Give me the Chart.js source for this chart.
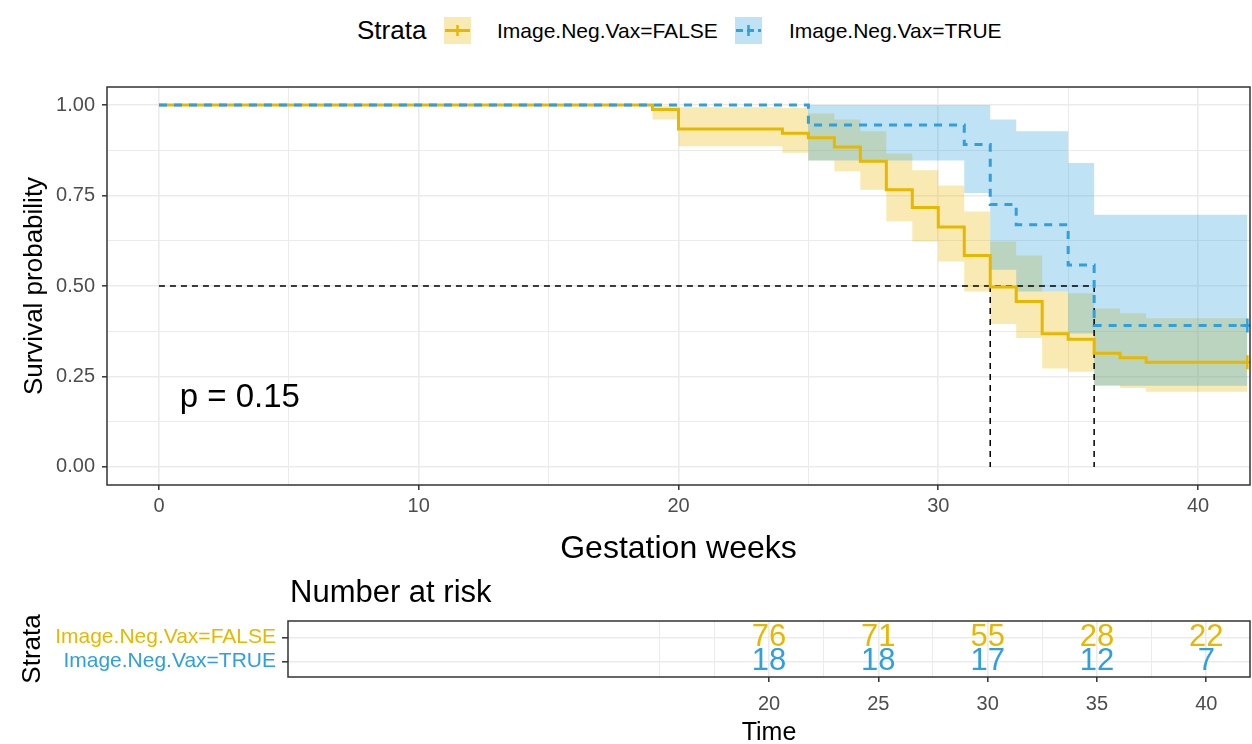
<!DOCTYPE html>
<html>
<head>
<meta charset="utf-8">
<title>Survival by Image.Neg.Vax</title>
<script src="https://cdn.jsdelivr.net/npm/chart.js@4.4.1/dist/chart.umd.min.js"></script>
<style>
  html, body { margin: 0; padding: 0; background: #fff; }
  body { width: 1252px; height: 744px; position: relative; overflow: hidden;
         font-family: "Liberation Sans", Arial, sans-serif; }
  #main { position: absolute; left: 0; top: 0; }
  #risk { position: absolute; left: 0; top: 570px; }
  .lg { position: absolute; line-height: 1; white-space: nowrap; color: #000; }
  .lg-title { font-size: 26px; }
  .lg-text { font-size: 21px; }
  .lg-key { position: absolute; }
</style>
</head>
<body>
<div class="lg lg-title" style="left:357px; top:17px;">Strata</div>
<canvas class="lg-key" id="keyFalse" width="27" height="27" style="left:444px; top:17px;"></canvas>
<div class="lg lg-text" style="left:497px; top:20px;">Image.Neg.Vax=FALSE</div>
<canvas class="lg-key" id="keyTrue" width="27" height="27" style="left:735px; top:17px;"></canvas>
<div class="lg lg-text" style="left:789px; top:20px;">Image.Neg.Vax=TRUE</div>

<canvas id="main" width="1252" height="575"></canvas>
<canvas id="risk" width="1252" height="178"></canvas>

<script>
// ---- Kaplan-Meier estimates (gestation weeks) ----
const timeFalse  = [0, 19, 20, 24, 25, 26, 27, 28, 29, 30, 31, 32, 33, 34, 35, 36, 37, 38, 41.9];
const survFalse  = [1, 0.988, 0.934, 0.922, 0.910, 0.884, 0.845, 0.766, 0.717, 0.663, 0.584, 0.497, 0.457, 0.368, 0.353, 0.314, 0.302, 0.289, 0.289];
const upperFalse = [1, 0.997, 0.994, 0.992, 0.977, 0.960, 0.928, 0.866, 0.820, 0.778, 0.706, 0.623, 0.584, 0.485, 0.480, 0.438, 0.425, 0.411, 0.411];
const lowerFalse = [1, 0.960, 0.886, 0.868, 0.847, 0.817, 0.766, 0.679, 0.623, 0.568, 0.485, 0.395, 0.356, 0.272, 0.263, 0.226, 0.218, 0.208, 0.208];

const timeTrue  = [0, 25, 31, 32, 33, 35, 36, 41.9];
const survTrue  = [1, 0.945, 0.891, 0.725, 0.669, 0.558, 0.391, 0.391];
const upperTrue = [1, 1, 1, 0.960, 0.928, 0.840, 0.697, 0.697];
const lowerTrue = [1, 0.847, 0.757, 0.545, 0.485, 0.369, 0.224, 0.224];

// Median survival times
const medianFalse = 32;
const medianTrue = 36;

// Log-rank p-value label and its position (data units)
const pValueText = 'p = 0.15';
const pValuePos = [0.8, 0.19];

// Axis ticks
const xGridMain  = [0, 5, 10, 15, 20, 25, 30, 35, 40];
const xLabelMain = [0, 10, 20, 30, 40];
const yGridMain  = [0, 0.125, 0.25, 0.375, 0.5, 0.625, 0.75, 0.875, 1];
const yLabelMain = [0, 0.25, 0.5, 0.75, 1];

// Number at risk table
const riskTimes = [20, 25, 30, 35, 40];
const riskFalse = [76, 71, 55, 28, 22];
const riskTrue  = [18, 18, 17, 12, 7];
const riskGrid  = [15, 17.5, 20, 22.5, 25, 27.5, 30, 32.5, 35, 37.5, 40];
const strataNames = ['Image.Neg.Vax=FALSE', 'Image.Neg.Vax=TRUE'];

// ---- styling ----
const FONT = '"Liberation Sans", Arial, sans-serif';
const C_FALSE = '#E7B800', C_TRUE = '#2E9FDF';
const F_FALSE = 'rgba(231,184,0,0.3)', F_TRUE = 'rgba(46,159,223,0.3)';
const GRID = '#ebebeb', TICK = '#333333', TEXT = '#4d4d4d';

Chart.defaults.font.family = FONT;
Chart.defaults.color = TEXT;

const pts = (xs, ys) => xs.map((x, i) => ({ x, y: ys[i] }));
const isIn = (arr, v) => arr.some(a => Math.abs(a - v) < 1e-9);

// legend keys
function drawKey(id, color, dashed) {
  const c = document.getElementById(id).getContext('2d');
  c.fillStyle = dashed ? F_TRUE : F_FALSE;
  c.fillRect(0, 0, 27, 27);
  c.strokeStyle = color;
  c.lineWidth = 3;
  c.setLineDash(dashed ? [7, 4] : []);
  c.beginPath(); c.moveTo(1, 13.5); c.lineTo(26, 13.5); c.stroke();
  c.setLineDash([]);
  c.lineWidth = 2.5;
  c.beginPath(); c.moveTo(13.5, 8); c.lineTo(13.5, 19); c.stroke();
}
drawKey('keyFalse', C_FALSE, false);
drawKey('keyTrue', C_TRUE, true);

// panel frame drawn on top of the plot area
const panelBorder = {
  id: 'panelBorder',
  afterDraw(chart) {
    const { ctx, chartArea: a } = chart;
    ctx.save();
    ctx.strokeStyle = TICK;
    ctx.lineWidth = 1.5;
    ctx.strokeRect(a.left, a.top, a.right - a.left, a.bottom - a.top);
    ctx.restore();
  }
};

const pValueLabel = {
  id: 'pValueLabel',
  afterDatasetsDraw(chart) {
    const { ctx, scales } = chart;
    ctx.save();
    ctx.font = '33px ' + FONT;
    ctx.fillStyle = '#000';
    ctx.textAlign = 'left';
    ctx.textBaseline = 'middle';
    ctx.fillText(pValueText, scales.x.getPixelForValue(pValuePos[0]), scales.y.getPixelForValue(pValuePos[1]));
    ctx.restore();
  }
};

const lineBase = { pointRadius: 0, pointHoverRadius: 0, stepped: true, tension: 0 };

new Chart(document.getElementById('main'), {
  type: 'line',
  data: {
    datasets: [
      { ...lineBase, label: 'ciFalseUpper', data: pts(timeFalse, upperFalse), fill: '+1',
        backgroundColor: F_FALSE, borderColor: 'transparent', borderWidth: 0, order: 5 },
      { ...lineBase, label: 'ciFalseLower', data: pts(timeFalse, lowerFalse), fill: false,
        borderColor: 'transparent', borderWidth: 0, order: 5 },
      { ...lineBase, label: 'ciTrueUpper', data: pts(timeTrue, upperTrue), fill: '+1',
        backgroundColor: F_TRUE, borderColor: 'transparent', borderWidth: 0, order: 4 },
      { ...lineBase, label: 'ciTrueLower', data: pts(timeTrue, lowerTrue), fill: false,
        borderColor: 'transparent', borderWidth: 0, order: 4 },
      { ...lineBase, stepped: false, label: 'medianH', data: [{ x: 0, y: 0.5 }, { x: Math.max(medianFalse, medianTrue), y: 0.5 }],
        borderColor: '#000', borderWidth: 1.5, borderDash: [6, 5], fill: false, order: 2 },
      { ...lineBase, stepped: false, label: 'medianFalse', data: [{ x: medianFalse, y: 0.5 }, { x: medianFalse, y: 0 }],
        borderColor: '#000', borderWidth: 1.5, borderDash: [6, 5], fill: false, order: 2 },
      { ...lineBase, stepped: false, label: 'medianTrue', data: [{ x: medianTrue, y: 0.5 }, { x: medianTrue, y: 0 }],
        borderColor: '#000', borderWidth: 1.5, borderDash: [6, 5], fill: false, order: 2 },
      { ...lineBase, label: 'Image.Neg.Vax=FALSE', data: pts(timeFalse, survFalse), fill: false,
        borderColor: C_FALSE, borderWidth: 3, order: 1 },
      { ...lineBase, label: 'Image.Neg.Vax=TRUE', data: pts(timeTrue, survTrue), fill: false,
        borderColor: C_TRUE, borderWidth: 3, borderDash: [8, 7], order: 0 },
      { type: 'scatter', label: 'censorFalse',
        data: [{ x: timeFalse[timeFalse.length - 1], y: survFalse[survFalse.length - 1] }],
        pointStyle: 'cross', pointRadius: 7, borderWidth: 2.5, borderColor: C_FALSE, order: 0 },
      { type: 'scatter', label: 'censorTrue',
        data: [{ x: timeTrue[timeTrue.length - 1], y: survTrue[survTrue.length - 1] }],
        pointStyle: 'cross', pointRadius: 7, borderWidth: 2.5, borderColor: C_TRUE, order: 0 }
    ]
  },
  options: {
    responsive: false, animation: false, devicePixelRatio: 1,
    // the censor marks sit on the panel edge; don't let them shrink the plot area
    layout: { autoPadding: false, padding: { top: 87, right: 2, left: 0, bottom: 0 } },
    plugins: { legend: { display: false }, tooltip: { enabled: false } },
    scales: {
      x: {
        type: 'linear', min: -2, max: 42,
        afterBuildTicks: s => { s.ticks = xGridMain.map(v => ({ value: v })); },
        afterFit: s => { s.height = 90; s.paddingLeft = 0; s.paddingRight = 0; },
        ticks: { callback: v => isIn(xLabelMain, v) ? String(v) : '', font: { size: 20 }, color: TEXT,
                 padding: 4, maxRotation: 0, autoSkip: false },
        grid: { color: GRID, lineWidth: c => isIn(xLabelMain, c.tick.value) ? 1.6 : 1,
                tickColor: c => isIn(xLabelMain, c.tick.value) ? TICK : 'rgba(0,0,0,0)',
                tickLength: 5, tickWidth: 1.5 },
        border: { display: false },
        title: { display: true, text: 'Gestation weeks', color: '#000', font: { size: 32 },
                 padding: { top: 0, bottom: 7 } }
      },
      y: {
        type: 'linear', min: -0.05, max: 1.05,
        afterBuildTicks: s => { s.ticks = yGridMain.map(v => ({ value: v })); },
        afterFit: s => { s.width = 107; },
        ticks: { callback: v => isIn(yLabelMain, v) ? v.toFixed(2) : '', font: { size: 20 }, color: TEXT,
                 padding: 7, autoSkip: false },
        grid: { color: GRID, lineWidth: c => isIn(yLabelMain, c.tick.value) ? 1.6 : 1,
                tickColor: c => isIn(yLabelMain, c.tick.value) ? TICK : 'rgba(0,0,0,0)',
                tickLength: 5, tickWidth: 1.5 },
        border: { display: false },
        title: { display: true, text: 'Survival probability', color: '#000', font: { size: 26 },
                 padding: { top: 19, bottom: 0 } }
      }
    }
  },
  plugins: [panelBorder, pValueLabel]
});

// ---- number at risk table ----
const riskNumbers = {
  id: 'riskNumbers',
  afterDatasetsDraw(chart) {
    const { ctx, scales, chartArea } = chart;
    ctx.save();
    ctx.textAlign = 'center';
    ctx.textBaseline = 'middle';
    ctx.font = '31px ' + FONT;
    riskTimes.forEach((t, i) => {
      const x = scales.x.getPixelForValue(t);
      ctx.fillStyle = C_FALSE;
      ctx.fillText(String(riskFalse[i]), x, scales.y.getPixelForValue(2));
      ctx.fillStyle = C_TRUE;
      ctx.fillText(String(riskTrue[i]), x, scales.y.getPixelForValue(1));
    });
    // table title
    ctx.textAlign = 'left';
    ctx.fillStyle = '#000';
    ctx.fillText('Number at risk', chartArea.left + 2, 23);
    ctx.restore();
  }
};

new Chart(document.getElementById('risk'), {
  type: 'scatter',
  data: {
    datasets: [
      { label: 'risk', data: riskTimes.map(t => ({ x: t, y: 1.5 })), pointRadius: 0 }
    ]
  },
  options: {
    responsive: false, animation: false, devicePixelRatio: 1,
    layout: { autoPadding: false, padding: { top: 51, right: 2, left: 0, bottom: 0 } },
    plugins: { legend: { display: false }, tooltip: { enabled: false } },
    scales: {
      x: {
        type: 'linear', min: -2, max: 42,
        afterBuildTicks: s => { s.ticks = riskGrid.map(v => ({ value: v })); },
        afterFit: s => { s.height = 71; s.paddingLeft = 0; s.paddingRight = 0; },
        ticks: { callback: v => isIn(riskTimes, v) ? String(v) : '', font: { size: 20 }, color: TEXT,
                 padding: 10, maxRotation: 0, autoSkip: false },
        grid: { color: GRID, lineWidth: c => isIn(riskTimes, c.tick.value) ? 1.6 : 1,
                tickColor: c => isIn(riskTimes, c.tick.value) ? TICK : 'rgba(0,0,0,0)',
                tickLength: 5, tickWidth: 1.5 },
        border: { display: false },
        title: { display: true, text: 'Time', color: '#000', font: { size: 25, lineHeight: 1 },
                 padding: { top: 0, bottom: 2 } }
      },
      y: {
        type: 'linear', min: 0.35, max: 2.7,
        afterBuildTicks: s => { s.ticks = [1, 2].map(v => ({ value: v })); },
        afterFit: s => { s.width = 288; },
        ticks: { callback: v => v === 2 ? strataNames[0] : strataNames[1], font: { size: 21 },
                 color: c => c.tick.value === 2 ? C_FALSE : C_TRUE, padding: 6, autoSkip: false },
        grid: { color: GRID, lineWidth: 1.6, tickColor: TICK, tickLength: 6, tickWidth: 1.5 },
        border: { display: false },
        title: { display: true, text: 'Strata', color: '#000', font: { size: 26 },
                 padding: { top: 17, bottom: 0 } }
      }
    }
  },
  plugins: [panelBorder, riskNumbers]
});
</script>
</body>
</html>
